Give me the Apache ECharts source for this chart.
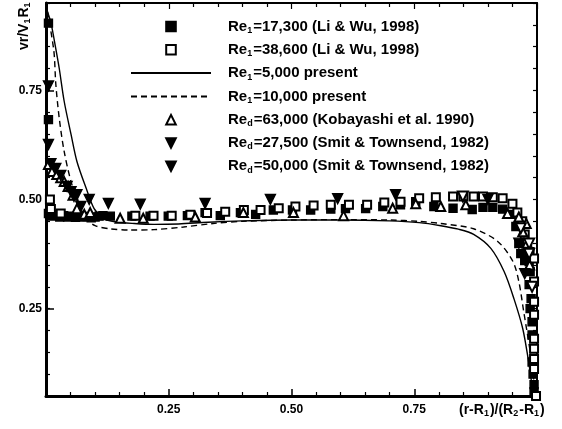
<!DOCTYPE html>
<html>
<head>
<meta charset="utf-8">
<script src="https://cdn.jsdelivr.net/npm/echarts@6/dist/echarts.min.js"></script>
<style>
html, body { margin: 0; padding: 0; background: #fff; }
#main { width: 562px; height: 429px; }
</style>
</head>
<body>
<div id="main"></div>
<script>
// tick labels
var xTickLabels = [0.25, 0.50, 0.75];
var yTickLabels = [0.25, 0.50, 0.75];

// Re1=17,300 (Li & Wu) - filled squares
var liWu17300 = [
    [0.005, 0.904], [0.005, 0.683], [0.005, 0.468], [0.012, 0.462], [0.02, 0.465], [0.028, 0.46],
    [0.036, 0.463], [0.044, 0.46], [0.052, 0.462], [0.06, 0.459], [0.068, 0.462], [0.076, 0.46],
    [0.084, 0.461], [0.092, 0.458], [0.1, 0.46], [0.108, 0.462], [0.116, 0.463], [0.131, 0.462],
    [0.175, 0.462], [0.212, 0.462], [0.249, 0.462], [0.288, 0.463], [0.324, 0.47], [0.355, 0.463],
    [0.396, 0.47], [0.427, 0.466], [0.463, 0.476], [0.502, 0.476], [0.539, 0.476], [0.58, 0.478],
    [0.61, 0.479], [0.651, 0.479], [0.686, 0.484], [0.722, 0.488], [0.753, 0.495], [0.79, 0.484],
    [0.829, 0.48], [0.868, 0.477], [0.89, 0.482], [0.91, 0.482], [0.93, 0.478], [0.947, 0.466],
    [0.957, 0.438], [0.963, 0.399], [0.967, 0.376], [0.975, 0.36], [0.984, 0.358], [0.986, 0.335],
    [0.984, 0.305], [0.988, 0.273], [0.986, 0.25], [0.99, 0.22], [0.99, 0.19], [0.99, 0.128],
    [0.992, 0.1], [0.994, 0.076], [0.994, 0.06]
];

// Re1=38,600 (Li & Wu) - open squares
var liWu38600 = [
    [0.008, 0.50], [0.01, 0.478], [0.03, 0.468],
    [0.182, 0.463], [0.219, 0.463], [0.256, 0.463], [0.294, 0.465], [0.328, 0.469], [0.365, 0.472],
    [0.403, 0.476], [0.437, 0.476], [0.474, 0.48], [0.508, 0.484], [0.545, 0.486], [0.58, 0.488],
    [0.617, 0.488], [0.654, 0.488], [0.689, 0.493], [0.722, 0.495], [0.76, 0.503], [0.794, 0.505],
    [0.829, 0.507], [0.85, 0.507], [0.871, 0.507], [0.89, 0.507], [0.91, 0.505], [0.93, 0.503],
    [0.95, 0.49], [0.96, 0.47], [0.97, 0.45], [0.975, 0.42], [0.98, 0.40], [0.985, 0.38],
    [0.994, 0.365], [0.994, 0.312], [0.994, 0.266], [0.994, 0.236], [0.994, 0.181], [0.994, 0.158],
    [0.994, 0.135], [0.994, 0.112], [0.998, 0.05]
];

// Re1=5,000 present - solid line
var present5000 = [
    [0.003, 0.93], [0.01, 0.905], [0.02, 0.845], [0.027, 0.80], [0.037, 0.725], [0.051, 0.649],
    [0.063, 0.587], [0.082, 0.525], [0.098, 0.479], [0.118, 0.456], [0.14, 0.449], [0.18, 0.445],
    [0.22, 0.443], [0.27, 0.444], [0.33, 0.448], [0.4, 0.451], [0.5, 0.453], [0.6, 0.453],
    [0.7, 0.451], [0.76, 0.447], [0.804, 0.44], [0.84, 0.432], [0.871, 0.42], [0.906, 0.388],
    [0.933, 0.335], [0.953, 0.273], [0.971, 0.204], [0.982, 0.135], [0.988, 0.089], [0.992, 0.05]
];

// Re1=10,000 present - dashed line
var present10000 = [
    [0.003, 0.93], [0.016, 0.84], [0.02, 0.764], [0.027, 0.686], [0.037, 0.61], [0.051, 0.541],
    [0.067, 0.489], [0.082, 0.456], [0.1, 0.44], [0.13, 0.433], [0.17, 0.43], [0.22, 0.431],
    [0.28, 0.437], [0.34, 0.445], [0.4, 0.45], [0.5, 0.453], [0.6, 0.454], [0.7, 0.453],
    [0.76, 0.45], [0.804, 0.445], [0.871, 0.433], [0.92, 0.404], [0.951, 0.358], [0.963, 0.312],
    [0.973, 0.243], [0.984, 0.167], [0.992, 0.105], [0.995, 0.05]
];

// Red=63,000 (Kobayashi) - open triangles
var kobayashi63000 = [
    [0.005, 0.58], [0.012, 0.564], [0.022, 0.557], [0.03, 0.55], [0.037, 0.541], [0.045, 0.53],
    [0.055, 0.51], [0.063, 0.479], [0.078, 0.466], [0.09, 0.47],
    [0.151, 0.457], [0.198, 0.457], [0.304, 0.46], [0.402, 0.47], [0.504, 0.47], [0.606, 0.463],
    [0.706, 0.48], [0.753, 0.49], [0.804, 0.484], [0.855, 0.488], [0.94, 0.468], [0.963, 0.46],
    [0.978, 0.445], [0.971, 0.426], [0.98, 0.40], [0.985, 0.35]
];

// Red=27,500 (Smit & Townsend) - filled down triangles
var smit27500 = [
    [0.005, 0.76], [0.005, 0.626], [0.01, 0.582], [0.02, 0.571], [0.03, 0.555], [0.043, 0.53],
    [0.051, 0.518], [0.057, 0.507], [0.071, 0.484], [0.963, 0.40], [0.975, 0.33]
];

// Red=50,000 (Smit & Townsend) - down triangles
var smit50000 = [
    [0.063, 0.511], [0.088, 0.50], [0.127, 0.491], [0.192, 0.489], [0.324, 0.491], [0.457, 0.50],
    [0.594, 0.502], [0.712, 0.511], [0.9, 0.50]
];
var smit50000Open = [
    [0.849, 0.507], [0.967, 0.434], [0.984, 0.399], [0.984, 0.376], [0.99, 0.30]
];

var legendLabels = {
    a: '{t|Re}{s|1}{t|=17,300 (Li & Wu, 1998)}',
    b: '{t|Re}{s|1}{t|=38,600 (Li & Wu, 1998)}',
    c: '{t|Re}{s|1}{t|=5,000 present}',
    d: '{t|Re}{s|1}{t|=10,000 present}',
    e: '{t|Re}{s|d}{t|=63,000 (Kobayashi et al. 1990)}',
    f: '{t|Re}{s|d}{t|=27,500 (Smit & Townsend, 1982)}',
    g: '{t|Re}{s|d}{t|=50,000 (Smit & Townsend, 1982)}'
};

var FONT = 'Liberation Sans';
var richText = {
    t: { fontFamily: FONT, fontWeight: 'bold', fontSize: 15, color: '#000' },
    s: { fontFamily: FONT, fontWeight: 'bold', fontSize: 9, color: '#000', padding: [8, 1, 0, 0] }
};
var richTitle = {
    t: { fontFamily: FONT, fontWeight: 'bold', fontSize: 14, color: '#000' },
    s: { fontFamily: FONT, fontWeight: 'bold', fontSize: 9, color: '#000', padding: [7, 1, 0, 0] }
};

function markSeries(name, data, symbol, size, rotate) {
    return {
        name: name,
        type: 'line',
        data: data,
        symbol: symbol,
        symbolSize: size,
        symbolRotate: rotate || 0,
        lineStyle: { width: 0, color: 'transparent' },
        itemStyle: { color: '#000', borderColor: '#000', borderWidth: 1.4 },
        z: 3
    };
}

var myChart = echarts.init(document.getElementById('main'));
var option = {
    animation: false,
    backgroundColor: '#fff',
    grid: { left: 46, right: 25, top: 3, bottom: 33, outerBoundsMode: 'none' },
    legend: {
        orient: 'vertical',
        left: 125,
        top: 14,
        itemWidth: 80,
        itemHeight: 12,
        itemGap: 7.3,
        selectedMode: false,
        data: ['a', 'b', 'c', 'd', 'e', 'f', 'g'],
        formatter: function (name) { return legendLabels[name]; },
        textStyle: { rich: richText, padding: [0, 0, 0, 12] }
    },
    xAxis: [{
        type: 'value', min: 0, max: 1, interval: 0.25,
        axisLine: { lineStyle: { color: '#000', width: 3 } },
        axisTick: { inside: true, length: 7, lineStyle: { color: '#000', width: 1.5 } },
        minorTick: { show: true, splitNumber: 5, length: 4, lineStyle: { color: '#000', width: 1.2 } },
        splitLine: { show: false },
        axisLabel: {
            customValues: xTickLabels,
            formatter: function (v) { return v.toFixed(2); },
            fontFamily: FONT, fontWeight: 'bold', fontSize: 12, color: '#000', margin: 8
        }
    }, {
        type: 'value', min: 0, max: 1, interval: 0.25, position: 'top',
        axisLine: { lineStyle: { color: '#000', width: 2 } },
        axisTick: { inside: true, length: 6, lineStyle: { color: '#000', width: 1.2 } },
        minorTick: { show: true, splitNumber: 5, length: 4, lineStyle: { color: '#000', width: 1.2 } },
        splitLine: { show: false },
        axisLabel: { show: false }
    }],
    yAxis: [{
        type: 'value', min: 0.05, max: 0.95, interval: 0.05, position: 'left',
        axisLine: { lineStyle: { color: '#000', width: 3 } },
        axisTick: { inside: true, length: 4, lineStyle: { color: '#000', width: 1.2 } },
        splitLine: { show: false },
        axisLabel: {
            customValues: yTickLabels,
            formatter: function (v) { return v.toFixed(2); },
            fontFamily: FONT, fontWeight: 'bold', fontSize: 12, color: '#000', margin: 4
        }
    }, {
        type: 'value', min: 0.05, max: 0.95, interval: 0.05, position: 'left',
        axisLine: { show: false },
        axisTick: { inside: true, length: 8, customValues: yTickLabels, lineStyle: { color: '#000', width: 1.5 } },
        splitLine: { show: false },
        axisLabel: { show: false }
    }, {
        type: 'value', min: 0.05, max: 0.95, interval: 0.05, position: 'right',
        axisLine: { lineStyle: { color: '#000', width: 2 } },
        axisTick: { inside: true, length: 4, lineStyle: { color: '#000', width: 1.2 } },
        splitLine: { show: false },
        axisLabel: { show: false }
    }],
    graphic: [{
        type: 'text',
        x: 24, y: 50,
        rotation: Math.PI / 2,
        style: {
            text: '{t|vr/V}{s|1}{t|R}{s|1}',
            rich: richTitle,
            align: 'left',
            verticalAlign: 'middle'
        }
    }, {
        type: 'text',
        x: 459, y: 410,
        style: {
            text: '{t|(r-R}{s|1}{t|)/(R}{s|2}{t|-R}{s|1}{t|)}',
            rich: richTitle,
            align: 'left',
            verticalAlign: 'middle'
        }
    }],
    series: [
        markSeries('a', liWu17300, 'rect', 8),
        markSeries('b', liWu38600, 'emptyRect', 8),
        {
            name: 'c', type: 'line', data: present5000, symbol: 'none', smooth: 0.3,
            lineStyle: { color: '#000', width: 1.4 },
            itemStyle: { color: 'transparent' }, z: 2
        },
        {
            name: 'd', type: 'line', data: present10000, symbol: 'none', smooth: 0.3,
            lineStyle: { color: '#000', width: 1.4, type: [6, 4] },
            itemStyle: { color: 'transparent' }, z: 2
        },
        markSeries('e', kobayashi63000, 'emptyTriangle', 9),
        markSeries('f', smit27500, 'triangle', 10, 180),
        markSeries('g', smit50000.concat(smit50000Open.map(function (p) {
            return { value: p, symbol: 'emptyTriangle' };
        })), 'triangle', 10, 180)
    ]
};
myChart.setOption(option);
</script>
</body>
</html>
